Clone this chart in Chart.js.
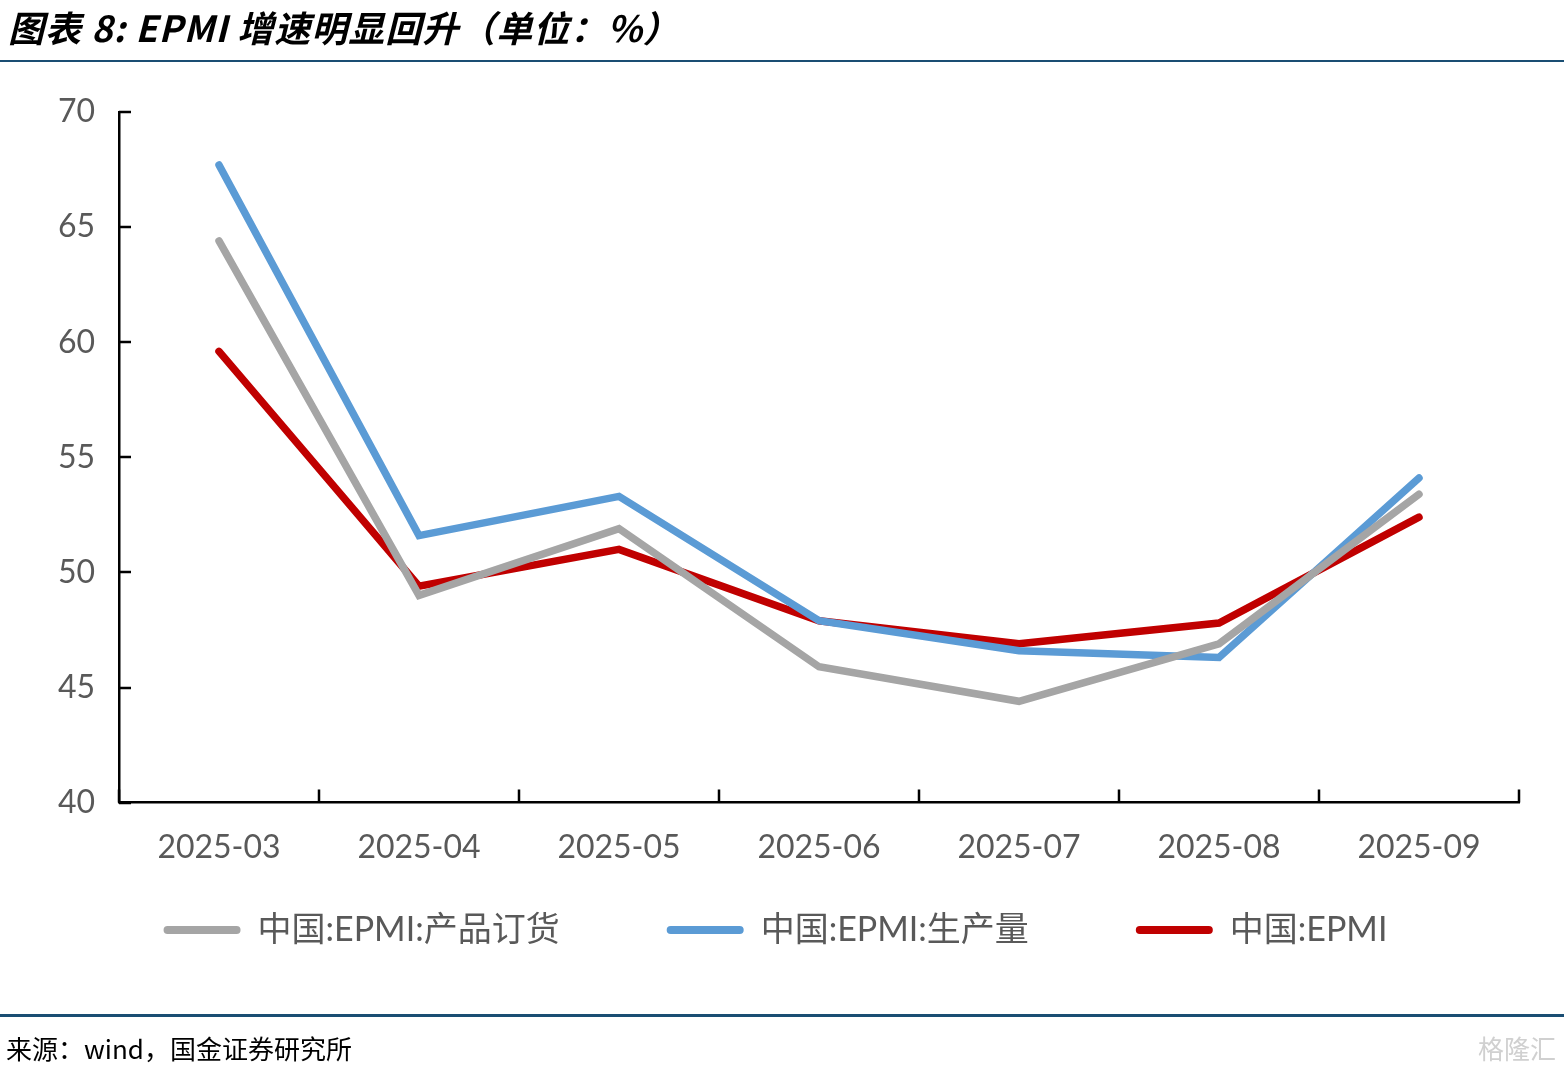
<!DOCTYPE html>
<html>
<head>
<meta charset="utf-8">
<script src="https://cdn.jsdelivr.net/npm/chart.js@4.4.1/dist/chart.umd.min.js"></script>
<style>
  html, body { margin: 0; padding: 0; background: #ffffff; }
  body { width: 1564px; height: 1072px; position: relative; overflow: hidden; }
  #title { position: absolute; left: 8px; top: 1px; font-family: "Noto Sans CJK SC", sans-serif; font-weight: 700; font-style: italic; font-size: 36px; line-height: 50px; color: #000; white-space: nowrap; letter-spacing: 1px; }
  #topline { position: absolute; left: 0; top: 60px; width: 1564px; height: 2px; background: #1a4e73; }
  #botline { position: absolute; left: 0; top: 1014px; width: 1564px; height: 3px; background: #1a4e73; }
  #source { position: absolute; left: 6px; top: 1030px; font-family: "Noto Sans CJK SC", sans-serif; font-size: 26px; line-height: 36px; color: #000; white-space: nowrap; }
  #mark { position: absolute; right: 8px; top: 1030px; font-family: "Noto Sans CJK SC", sans-serif; font-size: 26px; line-height: 36px; color: #d0d0d0; white-space: nowrap; }
  #wrap { position: absolute; left: 0; top: 0; width: 1564px; height: 1072px; }
</style>
</head>
<body>
<div id="wrap"><canvas id="c"></canvas></div>
<div id="title">图表 8:&nbsp;EPMI 增速明显回升（单位：%）</div>
<div id="topline"></div>
<div id="botline"></div>
<div id="source">来源：wind，国金证券研究所</div>
<div id="mark">格隆汇</div>
<script>
const categories = ['2025-03', '2025-04', '2025-05', '2025-06', '2025-07', '2025-08', '2025-09'];
const ordersValues = [64.4, 49.0, 51.9, 45.9, 44.4, 46.9, 53.4];
const productionValues = [67.7, 51.6, 53.3, 47.9, 46.6, 46.3, 54.1];
const epmiValues = [59.6, 49.4, 51.0, 47.9, 46.9, 47.8, 52.4];
const seriesNames = ['中国:EPMI:产品订货', '中国:EPMI:生产量', '中国:EPMI'];
const yTicks = [40, 45, 50, 55, 60, 65, 70];

const tickColor = '#595959';
const LEGEND_TEXT_Y = 930;
const LEGEND_PAD = 107;
const LEGEND_FONT = 34;

const innerTicks = {
  id: 'innerTicks',
  afterLayout(chart) {
    const lg = chart.legend;
    if (lg) {
      const top = LEGEND_TEXT_Y - LEGEND_PAD - LEGEND_FONT / 2;
      const h = lg.bottom - lg.top;
      lg.top = top;
      lg.bottom = top + h;
    }
  },
  afterDatasetsDraw(chart) {
    const ctx = chart.ctx;
    const x = chart.scales.x, y = chart.scales.y;
    const area = chart.chartArea;
    ctx.save();
    ctx.strokeStyle = '#000';
    ctx.lineWidth = 2.5;
    ctx.beginPath();
    y.ticks.forEach(t => {
      const py = Math.round(y.getPixelForValue(t.value));
      ctx.moveTo(area.left, py);
      ctx.lineTo(area.left + 12, py);
    });
    for (let i = 0; i <= categories.length; i++) {
      const px = Math.round(x.getPixelForValue(i - 0.5));
      ctx.moveTo(px, area.bottom);
      ctx.lineTo(px, area.bottom - 13);
    }
    ctx.stroke();
    ctx.restore();
  }
};

new Chart(document.getElementById('c'), {
  type: 'line',
  data: {
    labels: categories,
    datasets: [
      { label: seriesNames[0], data: ordersValues, borderColor: '#a5a5a5', backgroundColor: '#a5a5a5' },
      { label: seriesNames[1], data: productionValues, borderColor: '#5b9bd5', backgroundColor: '#5b9bd5' },
      { label: seriesNames[2], data: epmiValues, borderColor: '#c00000', backgroundColor: '#c00000' }
    ]
  },
  options: {
    responsive: true,
    maintainAspectRatio: false,
    animation: false,
    devicePixelRatio: 1,
    elements: {
      point: { radius: 0, hoverRadius: 0 },
      line: { borderWidth: 7.5, tension: 0, borderCapStyle: 'round', borderJoinStyle: 'miter', fill: false }
    },
    layout: { padding: { left: 32, right: 45, top: 112, bottom: 28 } },
    plugins: {
      tooltip: { enabled: false },
      legend: {
        position: 'bottom',
        labels: {
          boxWidth: 77,
          boxHeight: 8,
          padding: LEGEND_PAD,
          color: tickColor,
          font: { family: 'Lato, "Noto Sans CJK SC", sans-serif', size: LEGEND_FONT },
          useBorderRadius: true,
          borderRadius: 4,
          generateLabels(chart) {
            return Chart.defaults.plugins.legend.labels.generateLabels(chart).map(l => {
              l.lineWidth = 0;
              l.fillStyle = chart.data.datasets[l.datasetIndex].borderColor;
              return l;
            });
          }
        }
      }
    },
    scales: {
      x: {
        offset: true,
        grid: { display: false, drawTicks: false, offset: true },
        border: { display: true, color: '#000', width: 2.5 },
        ticks: { color: tickColor, font: { family: 'Lato, sans-serif', size: 32 }, padding: 26, maxRotation: 0, autoSkip: false }
      },
      y: {
        min: 40,
        max: 70,
        afterBuildTicks(scale) { scale.ticks = yTicks.map(v => ({ value: v })); },
        grid: { display: false, drawTicks: false },
        border: { display: true, color: '#000', width: 2.5 },
        ticks: { color: tickColor, font: { family: 'Lato, sans-serif', size: 32 }, padding: 24 },
        afterFit(scale) { scale.width = 87; }
      }
    }
  },
  plugins: [innerTicks]
});
</script>
</body>
</html>
